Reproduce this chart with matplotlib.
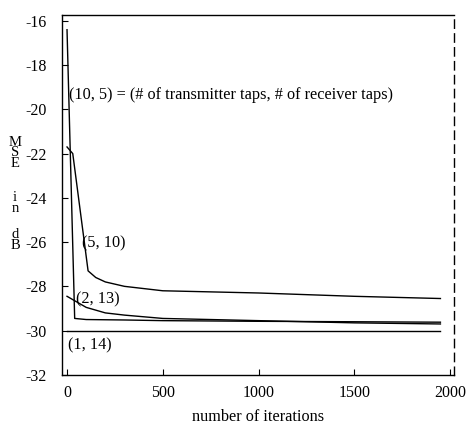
# Curvas de MSE frente a iteraciones
import matplotlib.pyplot as plt

plt.rcParams['font.family'] = ['Liberation Serif', 'DejaVu Serif']
plt.rcParams['axes.unicode_minus'] = False

# Datos
iter_10_5 = [0, 40, 100, 300, 500, 1000, 1500, 1950]
mse_10_5 = [-16.4, -29.45, -29.5, -29.52, -29.55, -29.58, -29.6, -29.62]

iter_5_10 = [0, 30, 110, 150, 200, 300, 500, 1000, 1500, 1950]
mse_5_10 = [-21.7, -22.0, -27.3, -27.6, -27.8, -28.0, -28.2, -28.3, -28.45, -28.55]

iter_2_13 = [0, 100, 200, 300, 500, 1000, 1500, 1950]
mse_2_13 = [-28.45, -28.95, -29.2, -29.3, -29.45, -29.55, -29.65, -29.7]

iter_1_14 = [0, 1950]
mse_1_14 = [-30.0, -30.0]

etiquetas = ['(10, 5) = (# of transmitter taps, # of receiver taps)',
             '(5, 10)', '(2, 13)', '(1, 14)']

fig = plt.figure(figsize=(4.7, 4.25), dpi=100)
ax = fig.add_axes([0.132, 0.118, 0.834, 0.847])

for xs, ys in [(iter_10_5, mse_10_5), (iter_5_10, mse_5_10),
               (iter_2_13, mse_2_13), (iter_1_14, mse_1_14)]:
    ax.plot(xs, ys, color='black', linewidth=1.0)

ax.set_xlim(-26, 2021)
ax.set_ylim(-32, -15.73)
ax.set_xticks([0, 500, 1000, 1500, 2000])
ax.set_yticks(range(-32, -15, 2))
ax.tick_params(direction='in', length=4, labelsize=11.5, colors='black')
ax.tick_params(axis='y', pad=11)
ax.tick_params(axis='x', pad=7)
ax.spines['right'].set_linestyle((0, (6, 4)))
for s in ax.spines.values():
    s.set_linewidth(1.0)

# Etiquetas de las curvas
ax.text(10, -19.35, etiquetas[0], fontsize=11.7, va='center')
ax.text(80, -26.05, etiquetas[1], fontsize=11.7, va='center')
ax.text(45, -28.6, etiquetas[2], fontsize=11.7, va='center')
ax.text(5, -30.65, etiquetas[3], fontsize=11.7, va='center')

ax.set_xlabel('number of iterations', fontsize=11.7, labelpad=6)

# Etiqueta vertical del eje y, en tres bloques
bloques = ['M\nS\nE', 'i\nn', 'd\nB']
alturas = [153, 203, 240]
for bloque, h in zip(bloques, alturas):
    fig.text(15 / 470, 1 - h / 425, bloque, fontsize=10.5, ha='center',
             va='center', linespacing=0.72)

fig.savefig('out.png', dpi=100)
